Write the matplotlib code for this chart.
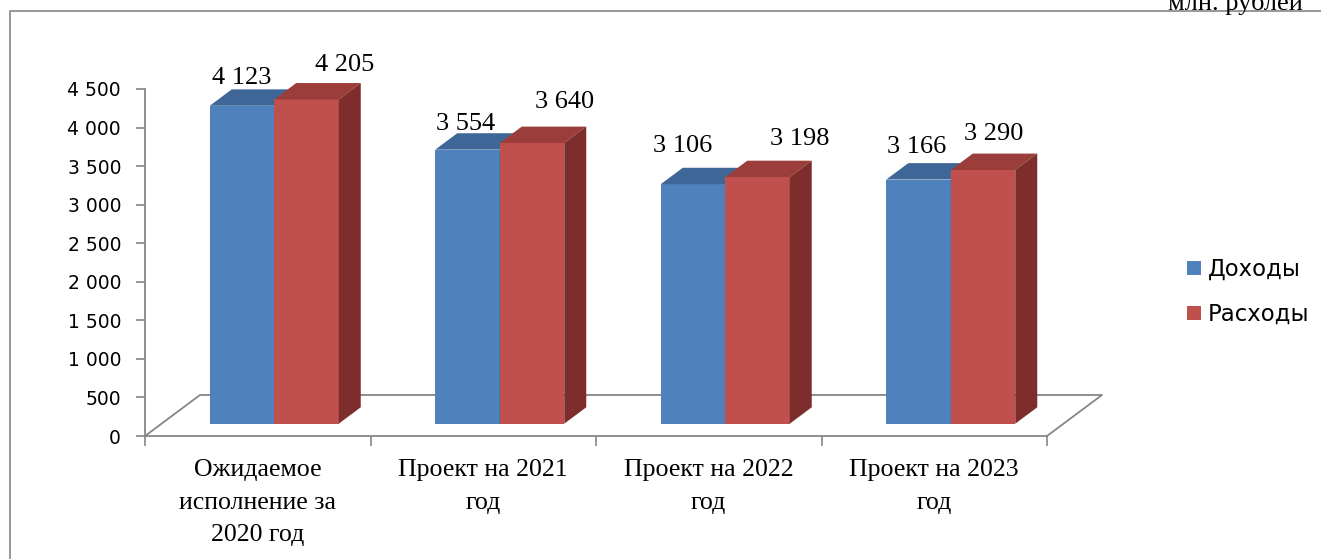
import numpy as np
import matplotlib
matplotlib.use("Agg")
import matplotlib.pyplot as plt
from matplotlib.patches import Polygon, Patch
from matplotlib.lines import Line2D

# data
categories = ["Ожидаемое\nисполнение за\n2020 год", "Проект на 2021\nгод",
              "Проект на 2022\nгод", "Проект на 2023\nгод"]
series_names = ["Доходы", "Расходы"]
dohody = [4123, 3554, 3106, 3166]
rashody = [4205, 3640, 3198, 3290]
yticks = [0, 500, 1000, 1500, 2000, 2500, 3000, 3500, 4000, 4500]

# style
W, H = 1321, 559
front_cols = ["#4F81BD", "#C0504D"]
top_cols = ["#3E6697", "#9B3E3B"]
side_cols = ["#2F5684", "#7D2E2C"]
grey = "#868686"
DX, DY = 0.244, 532.0      # full floor depth in data units
zf, zb = 0.30, 0.70        # bar front / back depth
gap, bw = 0.214, 0.286
# label offsets (px) from bar front top centre
lab_off = [[(0, 28), (38, 34)], [(-2, 26), (33, 41)],
           [(-10, 38), (42, 38)], [(-2, 33), (11, 36)]]

def px(v):
    return v * 72 / 100.0

fig = plt.figure(figsize=(W / 100, H / 100), dpi=100)
ax = fig.add_axes([145 / W, (H - 436) / H, 902 / W, 347 / H])
ax.set_xlim(0, 4)
ax.set_ylim(0, 4500)

for s in ["top", "right"]:
    ax.spines[s].set_visible(False)
for s in ["left", "bottom"]:
    ax.spines[s].set_color(grey)
    ax.spines[s].set_linewidth(1.3)

ax.set_yticks(yticks)
ax.set_yticklabels([f"{t:,}".replace(",", "\u00a0") for t in yticks])
ax.tick_params(axis="y", direction="out", length=px(9), width=1.2, color=grey,
               pad=px(15), labelsize=13.5)
ax.set_xticks([0, 1, 2, 3, 4])
ax.set_xticklabels([])
ax.tick_params(axis="x", which="major", direction="out", length=px(10), width=1.2, color=grey)
ax.set_xticks([0.5, 1.5, 2.5, 3.5], minor=True)
ax.set_xticklabels(categories, minor=True, family="Liberation Serif", fontsize=18.6,
                   linespacing=1.62)
ax.tick_params(axis="x", which="minor", length=0, pad=px(23))

# floor
ax.add_line(Line2D([0, DX, 4 + DX, 4], [0, DY, DY, 0], color=grey, lw=1.3,
                   clip_on=False, zorder=1))

for i in range(len(categories)):
    for s, vals in enumerate([dohody, rashody]):
        v = vals[i]
        x0 = i + gap + s * bw + zf * DX
        x1 = x0 + bw
        y0 = zf * DY
        y1 = y0 + v
        ddx = (zb - zf) * DX
        ddy = (zb - zf) * DY
        front = Polygon([(x0, y0), (x1, y0), (x1, y1), (x0, y1)], closed=True,
                        fc=front_cols[s], ec="none", clip_on=False, zorder=3)
        top = Polygon([(x0, y1), (x1, y1), (x1 + ddx, y1 + ddy), (x0 + ddx, y1 + ddy)],
                      closed=True, fc=top_cols[s], ec="none", clip_on=False, zorder=3)
        side = Polygon([(x1, y0), (x1 + ddx, y0 + ddy), (x1 + ddx, y1 + ddy), (x1, y1)],
                       closed=True, fc=side_cols[s], ec="none", clip_on=False, zorder=3)
        for p in (front, top, side):
            ax.add_patch(p)
        ox, oy = lab_off[i][s]
        ax.annotate(f"{v:,}".replace(",", "\u00a0"), xy=((x0 + x1) / 2, y1),
                    xytext=(px(ox), px(oy)), textcoords="offset points",
                    ha="center", va="center", family="Liberation Serif",
                    fontsize=19, annotation_clip=False, zorder=5)

handles = [Patch(fc=c, ec="none") for c in front_cols]
fig.legend(handles, series_names, loc="center left",
           bbox_to_anchor=(1187 / W, 1 - 292 / H), frameon=False,
           fontsize=16.4, handlelength=0.6, handleheight=0.6,
           handletextpad=0.3, labelspacing=0.95, borderpad=0, borderaxespad=0)

# outer frame and units (cut at the top edge as in the source)
fig.add_artist(Line2D([10 / W, 10 / W, 1], [0, 1 - 11 / H, 1 - 11 / H],
                      color=grey, lw=1.2, transform=fig.transFigure))
fig.text(1168 / W, 1 - 10 / H, "млн. рублей", family="Liberation Serif",
         fontsize=19, ha="left", va="baseline")

fig.savefig("out.png", dpi=100)
